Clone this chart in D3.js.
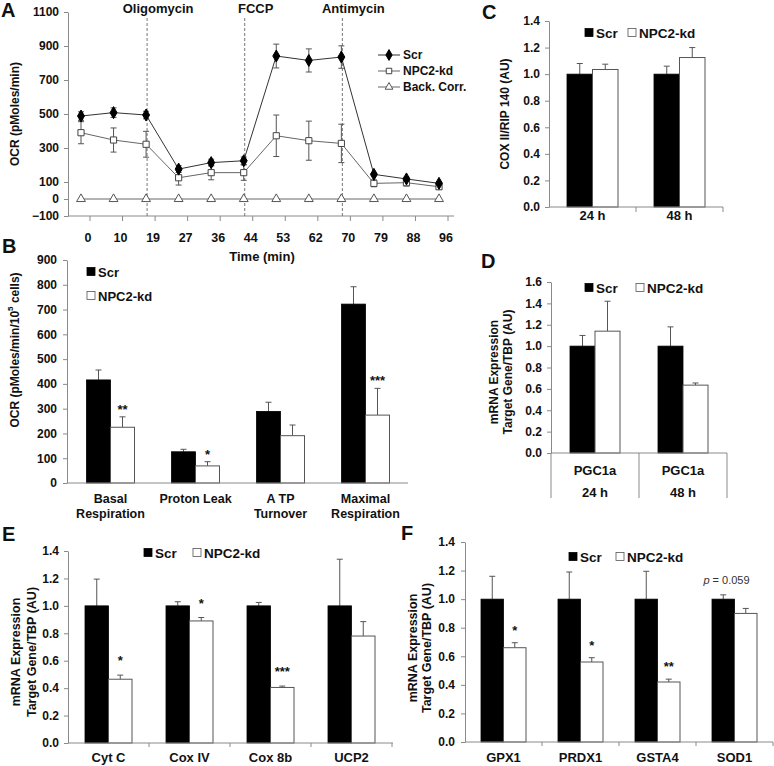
<!DOCTYPE html>
<html><head><meta charset="utf-8">
<script src="https://cdn.jsdelivr.net/npm/d3@7"></script>
<style>
body{margin:0;background:#fff}
svg{display:block}
text{font-family:"Liberation Sans",Arial,Helvetica,sans-serif;font-weight:bold;fill:#111}
</style>
</head><body>
<svg id="chart" width="774" height="766"></svg>
<script>
// ---------- DATA ----------
// Panel A: OCR time course
const times = [0,10,19,27,36,44,53,62,70,79,88,96];
const scrOCR    = [488,508,494,176,214,225,841,815,835,145,118,92];
const scrOCRErr = [25,28,22,20,20,22,70,68,66,6,10,8];
const kdOCR     = [390,347,322,125,155,155,372,343,327,92,96,72];
const kdOCRErr  = [65,71,76,43,42,45,122,115,113,20,20,15];
const bgOCR     = [0,0,0,0,0,0,0,0,0,0,0,0];
const injectionNames = ["Oligomycin","FCCP","Antimycin"];
const injectionTimes = [19,44,70];
const aYTicks = [-100,0,100,300,500,700,900,1100];
const seriesNames = ["Scr","NPC2-kd","Back. Corr."];

// Panel B: OCR parameters
const bCatLines = [["Basal","Respiration"],["Proton Leak"],["A TP","Turnover"],["Maximal","Respiration"]];
const bScr    = [416,126,289,722];
const bScrErr = [40,10,37,70];
const bKd     = [225,69,191,274];
const bKdErr  = [42,17,43,108];
const bStars  = ["**","*","",""+"***"];
const bYTicks = [0,100,200,300,400,500,600,700,800,900];

// Panel C: COX II / RIP140
const cCats   = ["24 h","48 h"];
const cScr    = [1.0,1.0];
const cScrErr = [0.08,0.06];
const cKd     = [1.035,1.125];
const cKdErr  = [0.04,0.075];
const cYTicks = [0,0.2,0.4,0.6,0.8,1.0,1.2,1.4];

// Panel D: PGC1a mRNA
const dGenes  = ["PGC1a","PGC1a"];
const dTimes  = ["24 h","48 h"];
const dScr    = [1.0,1.0];
const dScrErr = [0.10,0.18];
const dKd     = [1.14,0.635];
const dKdErr  = [0.28,0.02];
const dYTicks = [0,0.2,0.4,0.6,0.8,1.0,1.2,1.4,1.6];

// Panel E: mitochondrial genes
const eCats   = ["Cyt C","Cox IV","Cox 8b","UCP2"];
const eScr    = [1.0,1.0,1.0,1.0];
const eScrErr = [0.195,0.03,0.025,0.34];
const eKd     = [0.465,0.89,0.405,0.78];
const eKdErr  = [0.03,0.025,0.01,0.105];
const eStars  = ["*","*","***",""];
const eYTicks = [0,0.2,0.4,0.6,0.8,1.0,1.2,1.4];

// Panel F: antioxidant genes
const fCats   = ["GPX1","PRDX1","GSTA4","SOD1"];
const fScr    = [1.0,1.0,1.0,1.0];
const fScrErr = [0.16,0.19,0.195,0.03];
const fKd     = [0.66,0.56,0.42,0.90];
const fKdErr  = [0.035,0.03,0.02,0.035];
const fStars  = ["*","*","**",""];
const fYTicks = [0,0.2,0.4,0.6,0.8,1.0,1.2,1.4];
const fNote   = "0.059";

// ---------- HELPERS ----------
const FONT = '"Liberation Sans",Arial,Helvetica,sans-serif';
const AX = "#8a8a8a";
const svg = d3.select("#chart");

function styleAxis(g, fs) {
  g.attr("font-family", FONT).attr("font-size", fs || 12).attr("font-weight", "bold");
  g.select(".domain").attr("stroke", AX);
  g.selectAll(".tick line").attr("stroke", AX);
  g.selectAll(".tick text").attr("fill", "#111");
}
function yAxis(x, y, ticks, fmt, pad) {
  const g = svg.append("g").attr("transform", `translate(${x},0)`)
    .call(d3.axisLeft(y).tickValues(ticks).tickSize(4).tickSizeOuter(0).tickPadding(pad || 5).tickFormat(fmt));
  styleAxis(g, 12);
  return g;
}
function letter(t, x, yb) {
  svg.append("text").attr("x", x).attr("y", yb).attr("font-size", 20).text(t);
}
function rotLabel(lines, xs, cy, fs) {
  lines.forEach((l, i) => {
    svg.append("text").attr("transform", `translate(${xs[i]},${cy}) rotate(-90)`)
      .attr("text-anchor", "middle").attr("dominant-baseline", "central")
      .attr("font-size", fs || 12).text(l);
  });
}
function legend(items) {
  // items: {x, y, fill, label}
  items.forEach(it => {
    svg.append("rect").attr("x", it.x).attr("y", it.y - 4.5).attr("width", 8).attr("height", 8)
      .attr("fill", it.fill).attr("stroke", it.fill === "#000" ? "#000" : "#555").attr("stroke-width", 0.8);
    svg.append("text").attr("x", it.x + 11).attr("y", it.y).attr("dominant-baseline", "central")
      .attr("font-size", it.fs || 13.5).text(it.label);
  });
}
function bars(o) {
  // o: x (band), y, cats(keys), scr, scrErr, kd, kdErr, bw, stars, starGap
  const rows = o.keys.map((k, i) => ({k, i, scr: o.scr[i], se: o.scrErr[i], kd: o.kd[i], ke: o.kdErr[i], star: o.stars ? o.stars[i] : ""}));
  const cx = d => o.x(d.k) + o.x.bandwidth() / 2;
  const g = svg.append("g");
  // error bars first (behind bars)
  const err = (val, e, xc) => {
    g.append("line").attr("x1", xc).attr("x2", xc).attr("y1", o.y(val)).attr("y2", o.y(val + e)).attr("stroke", "#555").attr("stroke-width", 1);
    g.append("line").attr("x1", xc - 3).attr("x2", xc + 3).attr("y1", o.y(val + e)).attr("y2", o.y(val + e)).attr("stroke", "#555").attr("stroke-width", 1);
  };
  rows.forEach(d => { err(d.scr, d.se, cx(d) - o.bw / 2); err(d.kd, d.ke, cx(d) + o.bw / 2); });
  g.selectAll("rect.s").data(rows).join("rect")
    .attr("x", d => cx(d) - o.bw).attr("y", d => o.y(d.scr))
    .attr("width", o.bw).attr("height", d => o.y(0) - o.y(d.scr))
    .attr("fill", "#000").attr("stroke", "#000").attr("stroke-width", 0.8);
  g.selectAll("rect.k").data(rows).join("rect")
    .attr("x", d => cx(d)).attr("y", d => o.y(d.kd))
    .attr("width", o.bw).attr("height", d => o.y(0) - o.y(d.kd))
    .attr("fill", "#fff").attr("stroke", "#555").attr("stroke-width", 1);
  g.selectAll("text.star").data(rows.filter(d => d.star)).join("text")
    .attr("x", d => cx(d) + o.bw / 2).attr("y", d => o.y(d.kd + d.ke) - o.starGap)
    .attr("text-anchor", "middle").attr("font-size", 13).text(d => d.star);
  return {rows, cx};
}
function xBase(x0, x1, y0, ticks, tickLen) {
  svg.append("line").attr("x1", x0).attr("x2", x1).attr("y1", y0).attr("y2", y0).attr("stroke", AX);
  (ticks || []).forEach(t => svg.append("line").attr("x1", t).attr("x2", t).attr("y1", y0).attr("y2", y0 + (tickLen || 4)).attr("stroke", AX));
}

// ---------- PANEL A ----------
{
  const x = d3.scalePoint().domain(times).range([81, 439]);
  const y = d3.scaleLinear().domain([-100, 1100]).range([216, 12]);
  const tickOff = 9;
  yAxis(68, y, aYTicks, d3.format("d"), 5);
  // x axis
  const xg = svg.append("g").attr("transform", `translate(0,${y(-100)})`);
  xg.append("line").attr("x1", 68).attr("x2", 454).attr("stroke", AX);
  times.forEach(t => {
    xg.append("line").attr("x1", x(t) + tickOff).attr("x2", x(t) + tickOff).attr("y1", 0).attr("y2", 5).attr("stroke", AX);
    xg.append("text").attr("x", x(t) + tickOff - 2).attr("y", 26).attr("text-anchor", "middle").attr("font-size", 12.5).text(t);
  });
  svg.append("text").attr("x", 262).attr("y", 261).attr("text-anchor", "middle").attr("font-size", 13).text("Time (min)");
  rotLabel(["OCR (pMoles/min)"], [15], 114, 12);
  // injections
  injectionTimes.forEach((t, i) => {
    svg.append("line").attr("x1", x(t) + 1).attr("x2", x(t) + 1).attr("y1", 18).attr("y2", y(-100))
      .attr("stroke", "#777").attr("stroke-dasharray", "3,2").attr("stroke-width", 1);
    svg.append("text").attr("x", x(t) + 12).attr("y", 13).attr("text-anchor", "middle").attr("font-size", 13).text(injectionNames[i]);
  });
  const line = d3.line().x((d, i) => x(times[i])).y(d => y(d));
  const series = [
    {v: bgOCR, e: null, sym: d3.symbolTriangle, size: 34, fill: "#fff", stroke: "#555", lc: "#666"},
    {v: kdOCR, e: kdOCRErr, sym: d3.symbolSquare, size: 38, fill: "#fff", stroke: "#444", lc: "#666"},
    {v: scrOCR, e: scrOCRErr, sym: d3.symbolDiamond, size: 42, fill: "#000", stroke: "#000", lc: "#333"}
  ];
  series.forEach(s => {
    if (s.e) s.v.forEach((v, i) => {
      const xc = x(times[i]);
      svg.append("line").attr("x1", xc).attr("x2", xc).attr("y1", y(v - s.e[i])).attr("y2", y(v + s.e[i])).attr("stroke", "#555");
      [v - s.e[i], v + s.e[i]].forEach(w => svg.append("line").attr("x1", xc - 3).attr("x2", xc + 3).attr("y1", y(w)).attr("y2", y(w)).attr("stroke", "#555"));
    });
  });
  series.forEach(s => {
    svg.append("path").attr("d", line(s.v)).attr("fill", "none").attr("stroke", s.lc).attr("stroke-width", 1);
  });
  series.forEach(s => {
    svg.append("g").selectAll("path").data(s.v).join("path")
      .attr("transform", (d, i) => `translate(${x(times[i])},${y(d)})`)
      .attr("d", d3.symbol().type(s.sym).size(s.size)).attr("fill", s.fill).attr("stroke", s.stroke).attr("stroke-width", 1);
  });
  // legend
  const legRows = [series[2], series[1], series[0]];
  legRows.forEach((s, i) => {
    const ly = 55 + i * 16;
    svg.append("line").attr("x1", 378).attr("x2", 400).attr("y1", ly).attr("y2", ly).attr("stroke", s.lc);
    svg.append("path").attr("transform", `translate(389,${ly})`).attr("d", d3.symbol().type(s.sym).size(s.size - 8))
      .attr("fill", s.fill).attr("stroke", s.stroke);
    svg.append("text").attr("x", 403).attr("y", ly).attr("dominant-baseline", "central").attr("font-size", 12).text(seriesNames[i]);
  });
  letter("A", 1, 17);
}

// ---------- PANEL B ----------
{
  const keys = bCatLines.map(l => l.join(" "));
  const x = d3.scaleBand().domain(keys).range([68, 408]);
  const y = d3.scaleLinear().domain([0, 900]).range([483, 260]);
  yAxis(67, y, bYTicks, d3.format("d"), 6);
  bars({x, y, keys, scr: bScr, scrErr: bScrErr, kd: bKd, kdErr: bKdErr, bw: 24, stars: bStars, starGap: 3});
  xBase(67, 408, y(0), []);
  keys.forEach((k, i) => {
    bCatLines[i].forEach((ln, j) => {
      svg.append("text").attr("x", x(k) + x.bandwidth() / 2).attr("y", 503 + j * 14.5)
        .attr("text-anchor", "middle").attr("font-size", 12.5).text(ln);
    });
  });
  const yl = svg.append("text").attr("transform", `translate(15,350) rotate(-90)`).attr("text-anchor", "middle")
    .attr("dominant-baseline", "central").attr("font-size", 12);
  yl.append("tspan").text("OCR (pMoles/min/10");
  yl.append("tspan").attr("font-size", 8).attr("dy", -5).text("5");
  yl.append("tspan").attr("dy", 5).text(" cells)");
  legend([{x: 87, y: 272, fill: "#000", label: "Scr", fs: 13}, {x: 87, y: 296, fill: "#fff", label: "NPC2-kd", fs: 13}]);
  letter("B", 2, 253);
}

// ---------- PANEL C ----------
{
  const x = d3.scaleBand().domain(cCats).range([549, 723]);
  const y = d3.scaleLinear().domain([0, 1.4]).range([207, 21]);
  yAxis(549, y, cYTicks, d3.format(".1f"), 5);
  bars({x, y, keys: cCats, scr: cScr, scrErr: cScrErr, kd: cKd, kdErr: cKdErr, bw: 25.5, stars: null, starGap: 3});
  xBase(549, 723, y(0), [x(cCats[1]), 723], 5);
  cCats.forEach(c => svg.append("text").attr("x", x(c) + x.bandwidth() / 2).attr("y", 220).attr("text-anchor", "middle").attr("font-size", 13).text(c));
  rotLabel(["COX II/RIP 140 (AU)"], [505], 114, 12);
  legend([{x: 585, y: 33, fill: "#000", label: "Scr"}, {x: 628, y: 33, fill: "#fff", label: "NPC2-kd"}]);
  letter("C", 482, 19);
}

// ---------- PANEL D ----------
{
  const keys = dTimes;
  const x = d3.scaleBand().domain(keys).range([551, 727]);
  const y = d3.scaleLinear().domain([0, 1.6]).range([453, 282]);
  yAxis(551, y, dYTicks, d3.format(".1f"), 5);
  bars({x, y, keys, scr: dScr, scrErr: dScrErr, kd: dKd, kdErr: dKdErr, bw: 25, stars: null, starGap: 3});
  xBase(551, 727, y(0), []);
  [551, x(keys[1]), 727].forEach(t => svg.append("line").attr("x1", t).attr("x2", t).attr("y1", y(0)).attr("y2", y(0) + 45).attr("stroke", AX));
  keys.forEach((k, i) => {
    const cx = x(k) + x.bandwidth() / 2;
    svg.append("text").attr("x", cx).attr("y", 475).attr("text-anchor", "middle").attr("font-size", 13).text(dGenes[i]);
    svg.append("text").attr("x", cx).attr("y", 497).attr("text-anchor", "middle").attr("font-size", 13).text(dTimes[i]);
  });
  rotLabel(["mRNA Expression", "Target Gene/TBP (AU)"], [494, 508], 372, 12);
  legend([{x: 585, y: 288, fill: "#000", label: "Scr"}, {x: 636, y: 288, fill: "#fff", label: "NPC2-kd"}]);
  letter("D", 481, 268);
}

// ---------- PANEL E ----------
{
  const x = d3.scaleBand().domain(eCats).range([68, 392]);
  const y = d3.scaleLinear().domain([0, 1.4]).range([743, 551]);
  yAxis(68, y, eYTicks, d3.format(".1f"), 5);
  bars({x, y, keys: eCats, scr: eScr, scrErr: eScrErr, kd: eKd, kdErr: eKdErr, bw: 23.5, stars: eStars, starGap: 10});
  xBase(68, 393, y(0), eCats.map(c => x(c) + x.bandwidth()), 4);
  eCats.forEach(c => svg.append("text").attr("x", x(c) + x.bandwidth() / 2).attr("y", 762).attr("text-anchor", "middle").attr("font-size", 13).text(c));
  rotLabel(["mRNA Expression", "Target Gene/TBP (AU)"], [16, 32], 652, 12.5);
  legend([{x: 144, y: 553, fill: "#000", label: "Scr"}, {x: 193, y: 553, fill: "#fff", label: "NPC2-kd"}]);
  letter("E", 2, 541);
}

// ---------- PANEL F ----------
{
  const x = d3.scaleBand().domain(fCats).range([465, 773]);
  const y = d3.scaleLinear().domain([0, 1.4]).range([742, 542]);
  yAxis(465, y, fYTicks, d3.format(".1f"), 6);
  const r = bars({x, y, keys: fCats, scr: fScr, scrErr: fScrErr, kd: fKd, kdErr: fKdErr, bw: 22.5, stars: fStars, starGap: 8});
  xBase(465, 773, y(0), fCats.map(c => x(c) + x.bandwidth()), 4);
  fCats.forEach(c => svg.append("text").attr("x", x(c) + x.bandwidth() / 2).attr("y", 762).attr("text-anchor", "middle").attr("font-size", 13).text(c));
  rotLabel(["mRNA Expression", "Target Gene/TBP (AU)"], [413, 427], 648, 12.5);
  legend([{x: 569, y: 557, fill: "#000", label: "Scr"}, {x: 616, y: 557, fill: "#fff", label: "NPC2-kd"}]);
  const last = r.rows[3];
  const note = svg.append("text").attr("x", r.cx(last) - 8).attr("y", y(last.scr + last.se) - 11)
    .attr("text-anchor", "middle").attr("font-size", 11).attr("font-weight", "normal");
  note.append("tspan").attr("font-style", "italic").attr("fill", "#333").attr("font-weight", "normal").text("p");
  note.append("tspan").attr("fill", "#333").attr("font-weight", "normal").text(" = " + fNote);
  letter("F", 401, 540);
}
</script>
</body></html>
